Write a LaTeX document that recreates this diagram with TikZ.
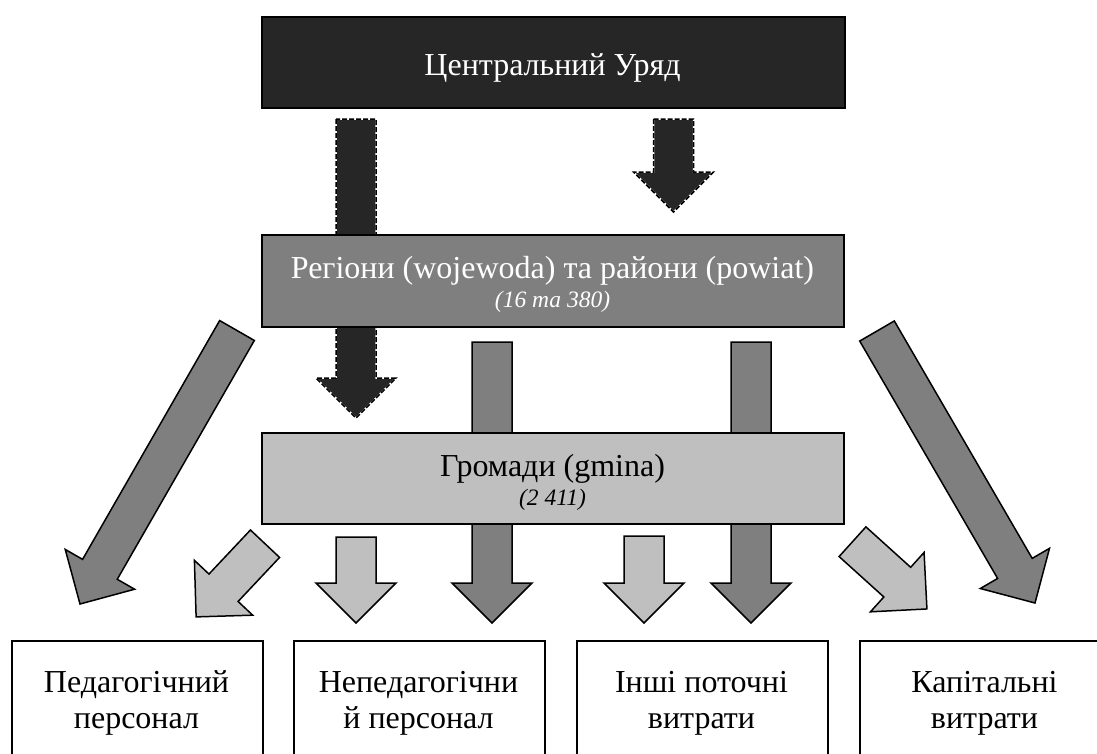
\documentclass[tikz,border=0pt]{standalone}
\usepackage{fontspec}
\setmainfont{Liberation Serif}
\usetikzlibrary{calc}
\definecolor{dk}{HTML}{262626}
\definecolor{md}{HTML}{7F7F7F}
\definecolor{lt}{HTML}{BFBFBF}
\newcommand\blockarrow[3]{%
  \pgfpointdiff{\pgfpointanchor{#2}{center}}{\pgfpointanchor{#3}{center}}%
  \pgfgetlastxy\bAx\bAy
  \pgfmathsetmacro\bArLen{veclen(\bAx,\bAy)}%
  \pgfmathsetmacro\bArAng{atan2(\bAy,\bAx)}%
  \begin{scope}[shift={(#2)},rotate=\bArAng]
    \draw[#1] (0pt,-20pt) -- ({\bArLen pt-40pt},-20pt) -- ({\bArLen pt-40pt},-40pt)
      -- (\bArLen pt,0pt) -- ({\bArLen pt-40pt},40pt) -- ({\bArLen pt-40pt},20pt)
      -- (0pt,20pt) -- cycle;
  \end{scope}}
\begin{document}
\begin{tikzpicture}[x=1pt,y=-1pt,line join=miter,
  box/.style={draw=black,line width=1.5pt,rectangle,inner sep=0pt},
  bigtxt/.style={font=\fontsize{32}{35.6}\selectfont,inner sep=0pt,align=center},
  smalltxt/.style={font=\fontsize{23.5}{28}\selectfont\itshape,inner sep=0pt},
  dkarrow/.style={fill=dk,draw=white,line width=1.5pt,
     postaction={draw=black,line width=1.5pt,dash pattern=on 5pt off 2pt}},
  mdarrow/.style={fill=md,draw=black,line width=1.5pt},
  ltarrow/.style={fill=lt,draw=black,line width=1.5pt}]
\useasboundingbox (0,0) rectangle (1097,753);
\clip (0,0) rectangle (1097,753);
\fill[white] (0,0) rectangle (1097,753);

% arrow end points
\coordinate (da1s) at (356,119);   \coordinate (da1e) at (356,418);
\coordinate (da2s) at (673.5,119); \coordinate (da2e) at (673.5,212);
\coordinate (ga1s) at (492,342);   \coordinate (ga1e) at (492,623);
\coordinate (ga2s) at (751,342);   \coordinate (ga2e) at (751,623);
\coordinate (gls) at (237,330.5);  \coordinate (gle) at (80,604);
\coordinate (grs) at (877,331);    \coordinate (gre) at (1035,603);
\coordinate (lv1s) at (356,537);   \coordinate (lv1e) at (356,623);
\coordinate (lv2s) at (644,536);   \coordinate (lv2e) at (644,623);
\coordinate (ld1s) at (265,543.7); \coordinate (ld1e) at (196,617);
\coordinate (ld2s) at (852.5,541.7); \coordinate (ld2e) at (927,609);

% arrows (behind the boxes)
\blockarrow{dkarrow}{da1s}{da1e}
\blockarrow{dkarrow}{da2s}{da2e}
\blockarrow{mdarrow}{ga1s}{ga1e}
\blockarrow{mdarrow}{ga2s}{ga2e}
\blockarrow{mdarrow}{gls}{gle}
\blockarrow{mdarrow}{grs}{gre}
\blockarrow{ltarrow}{lv1s}{lv1e}
\blockarrow{ltarrow}{lv2s}{lv2e}
\blockarrow{ltarrow}{ld1s}{ld1e}
\blockarrow{ltarrow}{ld2s}{ld2e}

% level boxes
\node[box,fill=dk,minimum width=583pt,minimum height=91pt,anchor=north west] (cg) at (261,16) {};
\node[bigtxt,text=white,anchor=base] (cgt) at (552.5,75) {Центральний Уряд};

\node[box,fill=md,minimum width=582pt,minimum height=92pt,anchor=north west] (rg) at (261,234) {};
\node[bigtxt,text=white,anchor=base] (rgt) at (552.5,278) {Регіони (wojewoda) та райони (powiat)};
\node[smalltxt,text=white,anchor=base] (rgn) at (552.5,307) {(16 та 380)};

\node[box,fill=lt,minimum width=582pt,minimum height=91pt,anchor=north west] (gm) at (261,432) {};
\node[bigtxt,anchor=base] (gmt) at (552.5,476) {Громади (gmina)};
\node[smalltxt,anchor=base] (gmn) at (552.5,505) {(2 411)};

% expenditure boxes
\node[box,fill=white,minimum width=251pt,minimum height=160pt,anchor=north west] (b1) at (11,640) {};
\node[box,fill=white,minimum width=251pt,minimum height=160pt,anchor=north west] (b2) at (293,640) {};
\node[box,fill=white,minimum width=251pt,minimum height=160pt,anchor=north west] (b3) at (576,640) {};
\node[box,fill=white,minimum width=251pt,minimum height=160pt,anchor=north west] (b4) at (859,640) {};
\node[bigtxt,anchor=base] (b1t) at (136.5,728.3) {Педагогічний\\персонал};
\node[bigtxt,anchor=base] (b2t) at (418.5,728.3) {Непедагогічни\\й персонал};
\node[bigtxt,anchor=base] (b3t) at (701.5,728.3) {Інші поточні\\витрати};
\node[bigtxt,anchor=base] (b4t) at (984.5,728.3) {Капітальні\\витрати};
\end{tikzpicture}
\end{document}
